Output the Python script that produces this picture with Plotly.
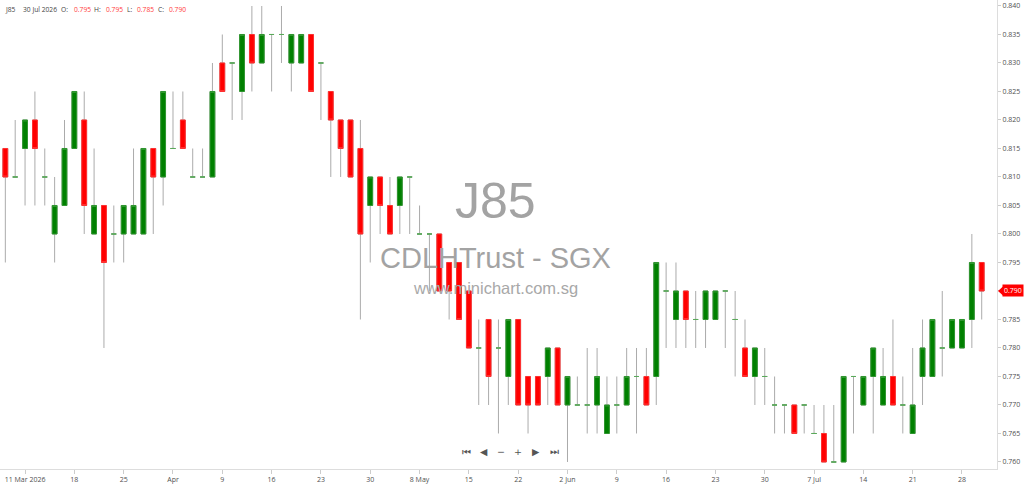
import numpy as np
import pandas as pd
import plotly.graph_objects as go

# ---------------- data ----------------
holidays = ["2026-04-03", "2026-05-01", "2026-05-27", "2026-06-01"]
dates = [d.strftime("%Y-%m-%d") for d in
         pd.bdate_range("2026-03-09", "2026-07-30", freq="C", holidays=holidays)]

open_ = [0.815, 0.810, 0.815, 0.820, 0.810, 0.800, 0.805, 0.815, 0.820, 0.800,
         0.805, 0.800, 0.800, 0.800, 0.800, 0.815, 0.810, 0.815, 0.820, 0.810,
         0.810, 0.810, 0.830, 0.830, 0.825, 0.835, 0.830, 0.835, 0.835, 0.830,
         0.830, 0.835, 0.830, 0.825, 0.820, 0.820, 0.815, 0.805, 0.810, 0.805,
         0.805, 0.810, 0.800, 0.800, 0.800, 0.795, 0.795, 0.790, 0.780, 0.785,
         0.780, 0.775, 0.785, 0.775, 0.775, 0.775, 0.780, 0.770, 0.770, 0.770,
         0.770, 0.765, 0.770, 0.770, 0.775, 0.775, 0.775, 0.790, 0.785, 0.790,
         0.785, 0.785, 0.785, 0.790, 0.785, 0.780, 0.775, 0.775, 0.770, 0.770,
         0.770, 0.770, 0.765, 0.765, 0.760, 0.760, 0.775, 0.770, 0.775, 0.770,
         0.775, 0.770, 0.765, 0.775, 0.775, 0.780, 0.780, 0.780, 0.785, 0.795]
high = [0.815, 0.820, 0.820, 0.825, 0.815, 0.810, 0.820, 0.825, 0.825, 0.815,
        0.805, 0.805, 0.805, 0.815, 0.815, 0.815, 0.825, 0.825, 0.825, 0.815,
        0.815, 0.830, 0.835, 0.830, 0.835, 0.840, 0.840, 0.835, 0.840, 0.835,
        0.835, 0.835, 0.830, 0.825, 0.820, 0.820, 0.820, 0.810, 0.810, 0.810,
        0.810, 0.810, 0.805, 0.800, 0.800, 0.795, 0.795, 0.790, 0.785, 0.785,
        0.785, 0.785, 0.785, 0.775, 0.775, 0.780, 0.780, 0.775, 0.775, 0.780,
        0.780, 0.775, 0.775, 0.780, 0.780, 0.780, 0.795, 0.795, 0.795, 0.790,
        0.790, 0.790, 0.790, 0.790, 0.790, 0.785, 0.780, 0.780, 0.775, 0.770,
        0.770, 0.770, 0.770, 0.770, 0.770, 0.775, 0.775, 0.775, 0.780, 0.780,
        0.785, 0.775, 0.780, 0.785, 0.785, 0.790, 0.785, 0.785, 0.800, 0.795]
low = [0.795, 0.810, 0.805, 0.805, 0.805, 0.795, 0.805, 0.815, 0.800, 0.800,
       0.780, 0.795, 0.795, 0.800, 0.800, 0.800, 0.805, 0.815, 0.815, 0.810,
       0.810, 0.810, 0.825, 0.820, 0.820, 0.825, 0.830, 0.825, 0.830, 0.825,
       0.830, 0.825, 0.820, 0.810, 0.810, 0.810, 0.785, 0.795, 0.800, 0.800,
       0.800, 0.800, 0.800, 0.790, 0.790, 0.785, 0.785, 0.780, 0.770, 0.770,
       0.765, 0.770, 0.770, 0.765, 0.770, 0.770, 0.770, 0.760, 0.770, 0.765,
       0.765, 0.765, 0.765, 0.770, 0.765, 0.770, 0.770, 0.780, 0.780, 0.780,
       0.780, 0.780, 0.785, 0.780, 0.775, 0.775, 0.770, 0.770, 0.765, 0.765,
       0.765, 0.765, 0.765, 0.760, 0.760, 0.760, 0.765, 0.770, 0.765, 0.770,
       0.770, 0.765, 0.765, 0.770, 0.775, 0.775, 0.780, 0.780, 0.780, 0.785]
close = [0.810, 0.810, 0.820, 0.815, 0.810, 0.805, 0.815, 0.825, 0.805, 0.805,
         0.795, 0.800, 0.805, 0.805, 0.815, 0.810, 0.825, 0.815, 0.815, 0.810,
         0.810, 0.825, 0.825, 0.830, 0.835, 0.830, 0.835, 0.835, 0.835, 0.835,
         0.835, 0.825, 0.830, 0.820, 0.815, 0.810, 0.800, 0.810, 0.805, 0.800,
         0.810, 0.810, 0.800, 0.800, 0.790, 0.790, 0.785, 0.780, 0.780, 0.775,
         0.780, 0.785, 0.770, 0.770, 0.770, 0.780, 0.770, 0.775, 0.770, 0.770,
         0.775, 0.770, 0.770, 0.775, 0.775, 0.770, 0.795, 0.790, 0.790, 0.785,
         0.785, 0.790, 0.790, 0.790, 0.785, 0.775, 0.780, 0.775, 0.770, 0.770,
         0.765, 0.770, 0.765, 0.760, 0.760, 0.775, 0.775, 0.775, 0.780, 0.775,
         0.770, 0.770, 0.770, 0.780, 0.785, 0.780, 0.785, 0.785, 0.795, 0.790]

tick_dates = ["2026-03-11", "2026-03-18", "2026-03-25", "2026-04-01", "2026-04-09",
              "2026-04-16", "2026-04-23", "2026-04-30", "2026-05-08", "2026-05-15",
              "2026-05-22", "2026-06-02", "2026-06-09", "2026-06-16", "2026-06-23",
              "2026-06-30", "2026-07-07", "2026-07-14", "2026-07-21", "2026-07-28"]
tick_text = ["11 Mar 2026", "18", "25", "Apr", "9", "16", "23", "30", "8 May", "15",
             "22", "2 Jun", "9", "16", "23", "30", "7 Jul", "14", "21", "28"]

symbol = "J85"
name = "CDLHTrust - SGX"
site = "www.minichart.com.sg"

# ---------------- styling constants ----------------
W, H = 997, 469          # plot area in px
def px(x):
    return x / W
def py(y):
    return 1 - y / H

GREEN = "#008000"
RED = "#ff0000"
WICK = "#ababab"
DOJI = "#5aaa5a"
TICK = "#505050"

body_idx = [i for i in range(len(dates)) if open_[i] != close[i]]
doji_idx = [i for i in range(len(dates)) if open_[i] == close[i]]

fig = go.Figure()

# wicks (full range)
fig.add_trace(go.Candlestick(
    x=dates, open=open_, high=high, low=low, close=close,
    increasing=dict(line=dict(color=WICK, width=1), fillcolor="rgba(0,0,0,0)"),
    decreasing=dict(line=dict(color=WICK, width=1), fillcolor="rgba(0,0,0,0)"),
    hoverinfo="skip", showlegend=False))

# bodies
fig.add_trace(go.Candlestick(
    x=[dates[i] for i in body_idx],
    open=[open_[i] for i in body_idx],
    close=[close[i] for i in body_idx],
    high=[max(open_[i], close[i]) for i in body_idx],
    low=[min(open_[i], close[i]) for i in body_idx],
    increasing=dict(line=dict(color="#2f962f", width=1), fillcolor=GREEN),
    decreasing=dict(line=dict(color="#ff3030", width=1), fillcolor=RED),
    showlegend=False))

# doji
fig.add_trace(go.Candlestick(
    x=[dates[i] for i in doji_idx],
    open=[open_[i] for i in doji_idx],
    close=[close[i] for i in doji_idx],
    high=[open_[i] for i in doji_idx],
    low=[open_[i] for i in doji_idx],
    increasing=dict(line=dict(color=DOJI, width=1), fillcolor=DOJI),
    decreasing=dict(line=dict(color=DOJI, width=1), fillcolor=DOJI),
    showlegend=False))

ann = []
# watermark
wm_font = "Liberation Sans, Arial, sans-serif"
ann.append(dict(text=symbol, x=px(495.5), y=py(201), xref="paper", yref="paper",
                showarrow=False, font=dict(size=50, color="#a3a3a3", family=wm_font)))
ann.append(dict(text=name, x=px(495.5), y=py(258), xref="paper", yref="paper",
                showarrow=False, font=dict(size=29, color="#a3a3a3", family=wm_font)))
ann.append(dict(text=site, x=px(495.5), y=py(288), xref="paper", yref="paper",
                showarrow=False, font=dict(size=16.5, color="#a8a8a8", family=wm_font)))

# header
last_date = pd.Timestamp(dates[-1]).strftime("%-d %b %Y")
hdr = [(symbol, 3, "#444"), (last_date, 21, "#444"),
       ("O:", 59, "#444"), (f"{open_[-1]:.3f}", 72, "#ff3b3b"),
       ("H:", 92, "#444"), (f"{high[-1]:.3f}", 104, "#ff3b3b"),
       ("L:", 125, "#444"), (f"{low[-1]:.3f}", 135, "#ff3b3b"),
       ("C:", 156, "#444"), (f"{close[-1]:.3f}", 167, "#ff3b3b")]
for t, x0, c in hdr:
    ann.append(dict(text=t, x=px(x0), y=py(10), xref="paper", yref="paper",
                    xanchor="left", yanchor="middle", showarrow=False,
                    font=dict(size=6.7, color=c)))

# navigation controls
for t, x0 in [("⏮", 466), ("◀", 484), ("−", 501), ("+", 518), ("▶", 536), ("⏭", 554)]:
    ann.append(dict(text=t, x=px(x0), y=py(459), xref="paper", yref="paper",
                    showarrow=False, font=dict(size=9.5, color="#555",
                                               family="DejaVu Sans")))

# last price tag
ann.append(dict(text=f"{close[-1]:.3f}", x=px(1002), y=close[-1], xref="paper", yref="y",
                xanchor="left", yanchor="middle", showarrow=False, bgcolor=RED,
                borderpad=1, font=dict(size=7, color="white")))

d = 0.0008
fig.add_shape(type="path", xref="paper", yref="y",
              path=f"M {px(998)},{close[-1]} L {px(1003)},{close[-1] + d} "
                   f"L {px(1003)},{close[-1] - d} Z",
              fillcolor=RED, line=dict(width=0))

fig.update_layout(
    width=1024, height=484,
    margin=dict(l=0, r=27, t=0, b=15),
    paper_bgcolor="white", plot_bgcolor="white",
    font=dict(family="Open Sans", size=7, color=TICK),
    showlegend=False,
    hovermode=False,
    dragmode=False,
    annotations=ann,
    xaxis=dict(type="category", categoryorder="array", categoryarray=dates,
               range=[-0.54, len(dates) + 0.55],
               tickvals=tick_dates,
               ticktext=[f"<span style='color:{TICK}'>{t}</span>" for t in tick_text],
               ticks="outside", ticklen=4, tickcolor="#cccccc",
               showline=True, linecolor="#dddddd", linewidth=1,
               showgrid=False, zeroline=False, rangeslider=dict(visible=False),
               tickfont=dict(size=7, color=TICK), fixedrange=True),
    yaxis=dict(side="right", range=[0.75877, 0.84105],
               tick0=0.76, dtick=0.005, tickformat=".3f",
               ticks="outside", ticklen=3, tickcolor="#cccccc",
               showline=True, linecolor="#dddddd", linewidth=1,
               showgrid=False, zeroline=False,
               tickfont=dict(size=7, color=TICK), fixedrange=True),
)

fig.write_html("out.html",
               config={"displayModeBar": False, "staticPlot": True},
               post_script="document.body.style.margin='0';"
                           "document.body.style.overflow='hidden';")
